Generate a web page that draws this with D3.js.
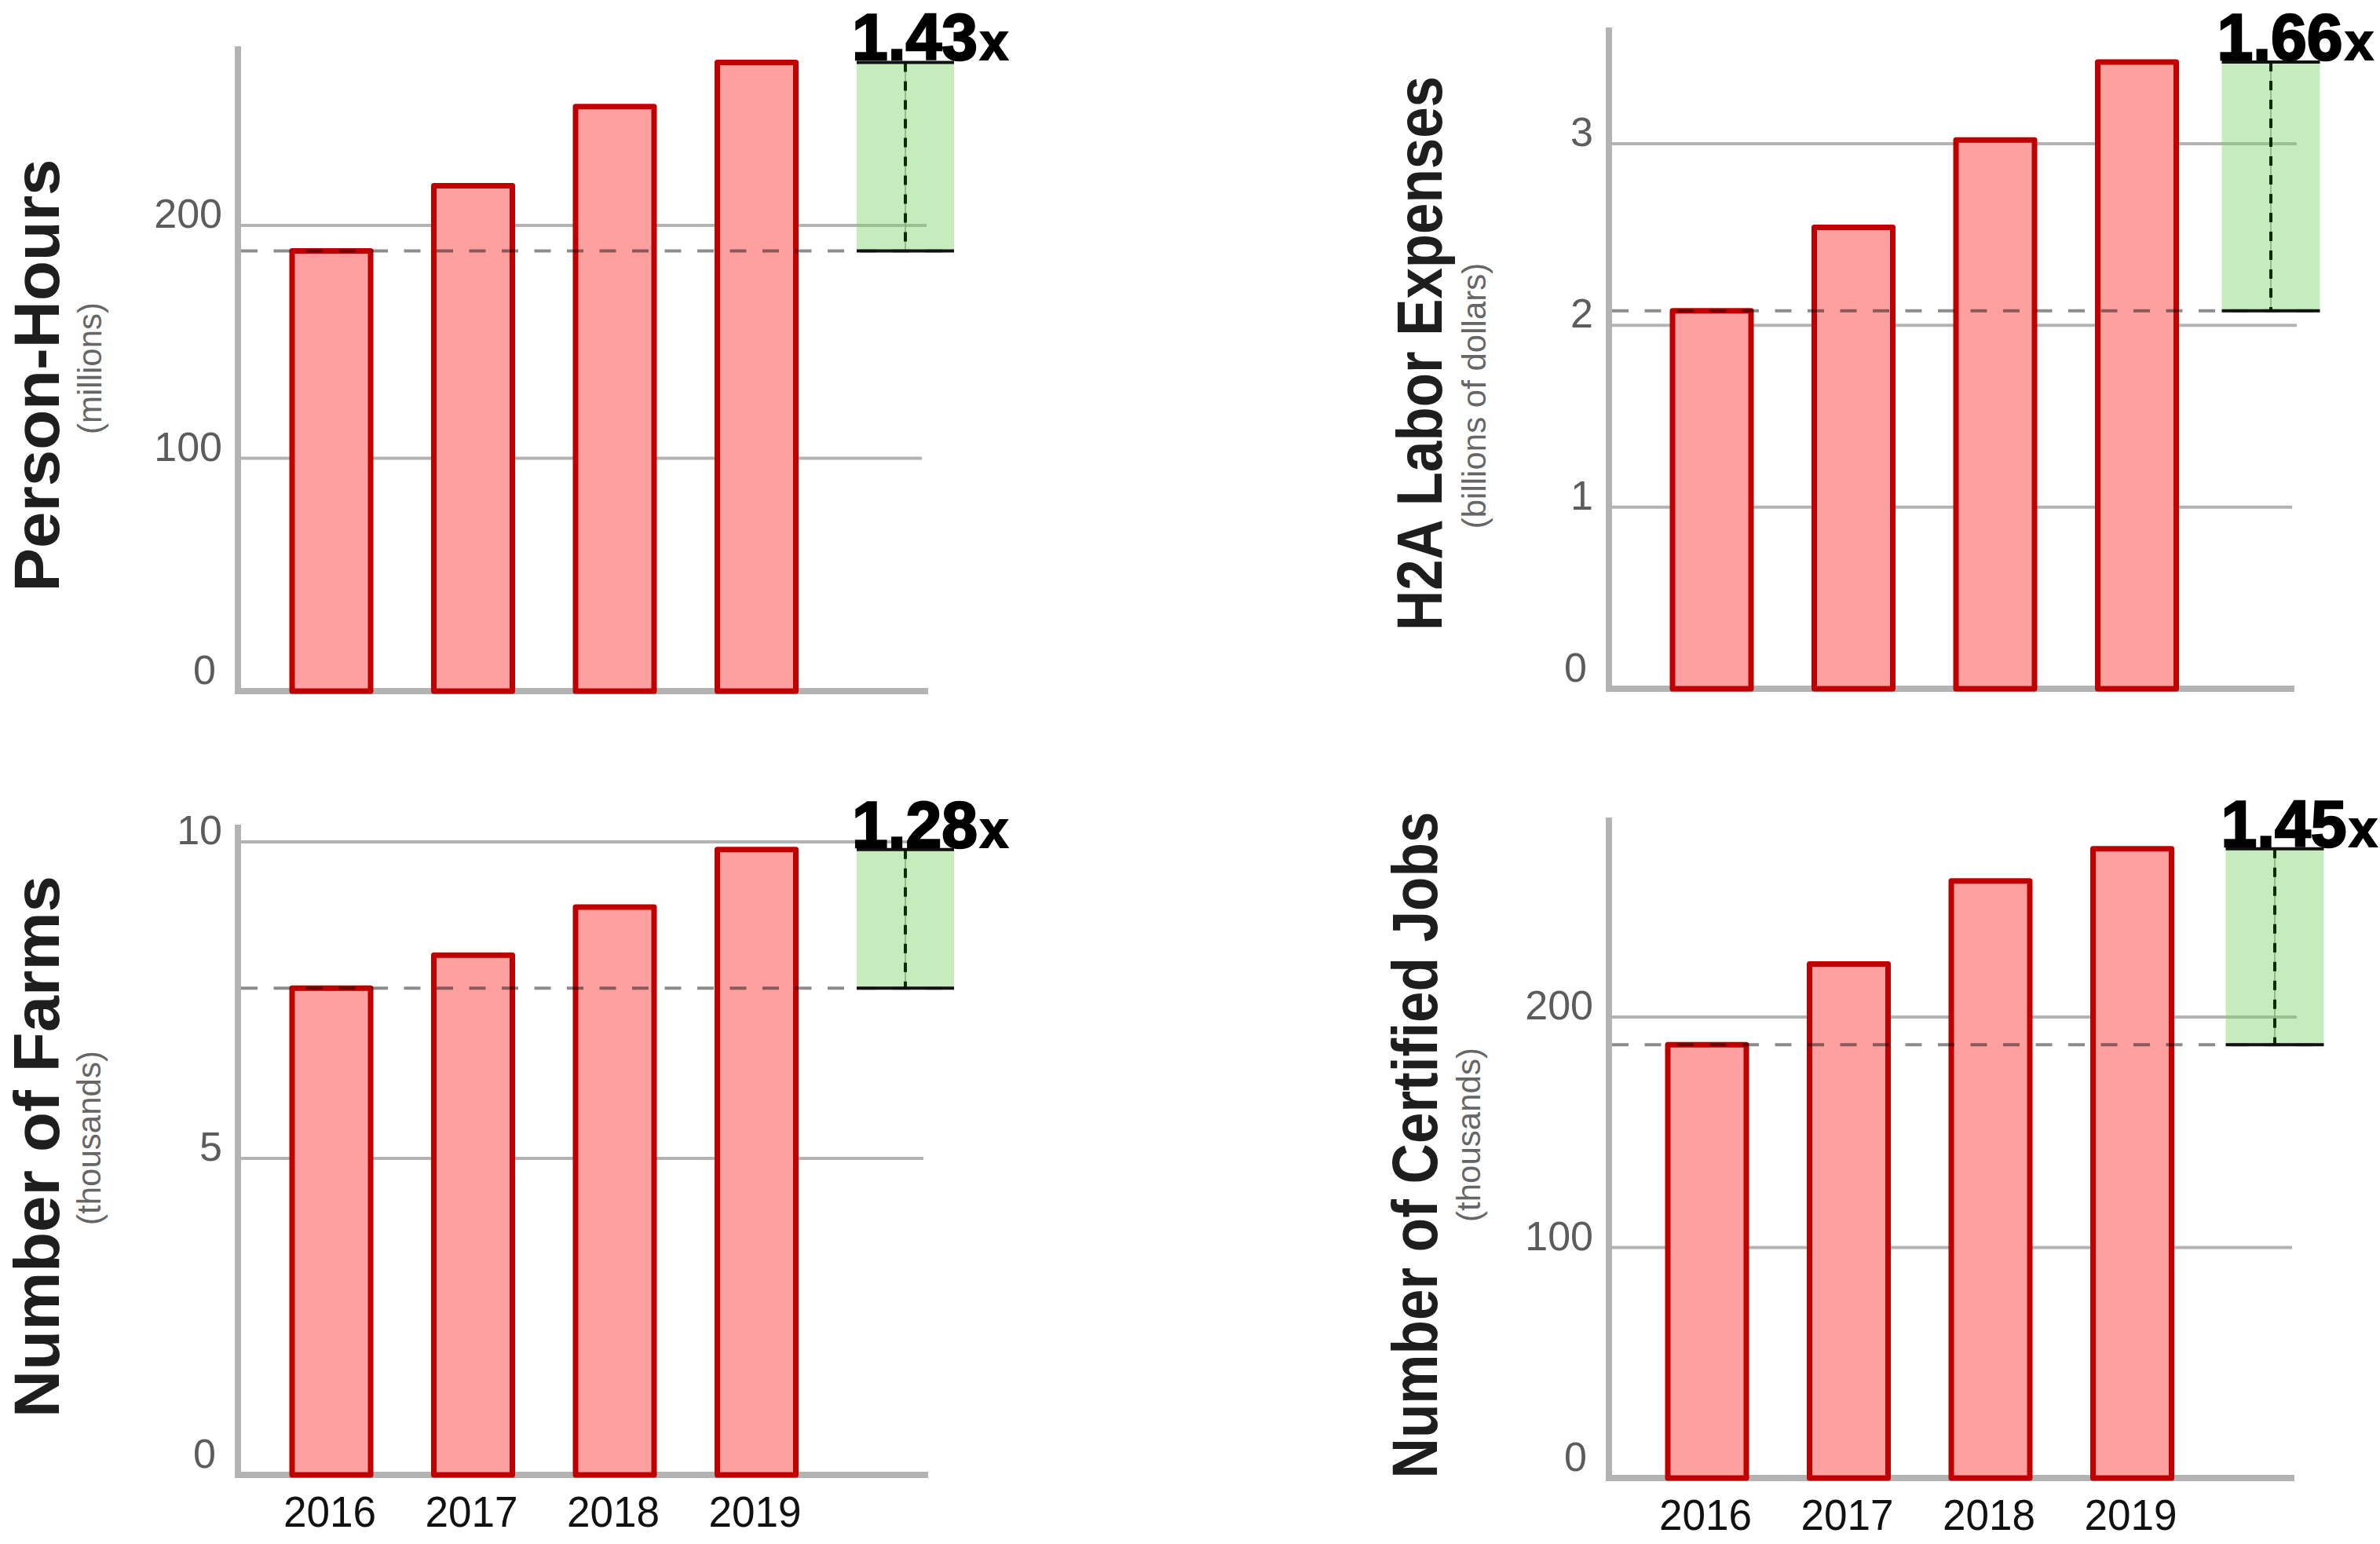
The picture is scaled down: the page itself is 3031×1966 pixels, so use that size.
<!DOCTYPE html>
<html>
<head>
<meta charset="utf-8">
<script src="https://cdn.jsdelivr.net/npm/d3@7"></script>
<style>
  html, body { margin: 0; padding: 0; background: #fff; }
  svg { display: block; }
  text { font-family: 'Liberation Sans', Arial, Helvetica, sans-serif; }
  .tick-label { fill: #5c5c5c; font-size: 52px; }
  .year-label { fill: #111; font-size: 56px; }
  .title { fill: #1e1e1e; font-size: 82px; font-weight: bold; }
  .unit { fill: #666; font-size: 42px; }
  .ratio { fill: #000; font-weight: bold; }
</style>
</head>
<body>
<svg id="chart" width="3031" height="1966"></svg>
<script>
// Data
const years = ['2016', '2017', '2018', '2019'];
const personHours = [189, 217, 251, 270];      // millions
const laborExpenses = [2.08, 2.54, 3.02, 3.45]; // billions of dollars
const farms = [7.69, 8.21, 8.97, 9.88];         // thousands
const certifiedJobs = [188, 223, 259, 273];     // thousands

const personHoursTicks = [0, 100, 200];
const laborExpensesTicks = [0, 1, 2, 3];
const farmsTicks = [0, 5, 10];
const certifiedJobsTicks = [0, 100, 200];

const titles = ['Person-Hours', 'H2A Labor Expenses', 'Number of Farms', 'Number of Certified Jobs'];
const units = ['(millions)', '(billions of dollars)', '(thousands)', '(thousands)'];

const seriesList = [personHours, laborExpenses, farms, certifiedJobs];
const tickList = [personHoursTicks, laborExpensesTicks, farmsTicks, certifiedJobsTicks];

// Where each small chart sits on the page
const layouts = [
    { left: 331.75, axisX: 303, y0: 880, refValue: 200, refY: 287, axisTop: 59, gridEnd: 1180, baseEnd: 1182,
      ratioShift: 9, ratioWidth: 124, titleX: 75, titleY: 478, titleLen: 551, unitX: 129, unitY: 469, showYears: false },
    { left: 2089.75, axisX: 2049, y0: 877, refValue: 3, refY: 183, axisTop: 35, gridEnd: 2925, baseEnd: 2922,
      ratioShift: -10, ratioWidth: 125, titleX: 1836, titleY: 450, titleLen: 706, unitX: 1892, unitY: 504, showYears: false },
    { left: 331.75, axisX: 303, y0: 1878, refValue: 10, refY: 1072, axisTop: 1050, gridEnd: 1182, baseEnd: 1182,
      ratioShift: 9, ratioWidth: 124, titleX: 75, titleY: 1460, titleLen: 690, unitX: 128, unitY: 1449, showYears: true },
    { left: 2083.75, axisX: 2049, y0: 1882, refValue: 200, refY: 1295, axisTop: 1041, gridEnd: 2925, baseEnd: 2922,
      ratioShift: 1, ratioWidth: 125, titleX: 1830, titleY: 1458, titleLen: 849, unitX: 1885, unitY: 1445, showYears: true }
];

const STEP = 180.5;
const AXIS_GREY = '#b3b3b3';

const svg = d3.select('#chart');

function drawPanel(values, ticks, title, unit, lay) {
    const g = svg.append('g');

    const x = d3.scaleBand()
        .domain([...years, 'ratio'])
        .range([lay.left, lay.left + STEP * 5])
        .paddingInner(1 - 100 / STEP)
        .paddingOuter((1 - 100 / STEP) / 2);

    const y = d3.scaleLinear()
        .domain([0, lay.refValue])
        .range([lay.y0, lay.refY]);

    // gridlines (zero is the baseline); the lowest one is a bit shorter
    const gridTicks = ticks.filter(t => t !== 0);
    g.selectAll('.grid')
        .data(gridTicks)
        .enter()
        .append('line')
        .attr('x1', lay.axisX)
        .attr('x2', (d, i) => i === 0 && gridTicks.length > 1 ? lay.gridEnd - 6 : lay.gridEnd)
        .attr('y1', d => y(d))
        .attr('y2', d => y(d))
        .attr('stroke', AXIS_GREY)
        .attr('stroke-width', 4);

    // axis lines
    g.append('line')
        .attr('x1', lay.axisX).attr('x2', lay.axisX)
        .attr('y1', lay.axisTop).attr('y2', lay.y0 + 4)
        .attr('stroke', AXIS_GREY).attr('stroke-width', 8);
    g.append('line')
        .attr('x1', lay.axisX - 4).attr('x2', lay.baseEnd)
        .attr('y1', lay.y0).attr('y2', lay.y0)
        .attr('stroke', AXIS_GREY).attr('stroke-width', 8);

    // tick labels
    g.selectAll('.tick-label')
        .data(ticks)
        .enter()
        .append('text')
        .attr('class', 'tick-label')
        .attr('text-anchor', 'end')
        .attr('x', d => d === 0 ? lay.axisX - 28 : lay.axisX - 20)
        .attr('y', d => d === 0 ? y(0) - 9 : y(d) + 3)
        .text(d => d);

    // bars
    g.selectAll('.bar')
        .data(values)
        .enter()
        .append('rect')
        .attr('class', 'bar')
        .attr('x', (d, i) => x(years[i]))
        .attr('width', x.bandwidth())
        .attr('y', d => y(d))
        .attr('height', d => lay.y0 - y(d))
        .attr('fill', '#ffa0a0')
        .attr('stroke', '#c00000')
        .attr('stroke-width', 7)
        .attr('stroke-linejoin', 'round');

    // growth box
    const first = values[0];
    const last = values[values.length - 1];
    const cx = x('ratio') + x.bandwidth() / 2 + lay.ratioShift;
    const gl = cx - lay.ratioWidth / 2;
    const gr = cx + lay.ratioWidth / 2;

    g.append('line')
        .attr('x1', lay.axisX + 4).attr('x2', gr)
        .attr('y1', y(first)).attr('y2', y(first))
        .attr('stroke', '#000').attr('stroke-opacity', 0.45)
        .attr('stroke-width', 4).attr('stroke-dasharray', '21 20.5');

    g.append('rect')
        .attr('x', gl).attr('width', lay.ratioWidth)
        .attr('y', y(last)).attr('height', y(first) - y(last))
        .attr('fill', 'rgb(120,210,100)').attr('fill-opacity', 0.42);

    g.append('line')
        .attr('x1', cx).attr('x2', cx)
        .attr('y1', y(last)).attr('y2', y(first))
        .attr('stroke', '#7fae74').attr('stroke-width', 1.5);
    g.append('line')
        .attr('x1', cx).attr('x2', cx)
        .attr('y1', y(last)).attr('y2', y(first))
        .attr('stroke', '#0d2a05').attr('stroke-width', 4)
        .attr('stroke-dasharray', '12 12');

    g.selectAll('.cap')
        .data([first, last])
        .enter()
        .append('line')
        .attr('x1', gl).attr('x2', gr)
        .attr('y1', d => y(d)).attr('y2', d => y(d))
        .attr('stroke', '#111').attr('stroke-width', 4);

    // growth label
    const ratio = (last / first).toFixed(2);
    g.append('text')
        .attr('class', 'ratio')
        .attr('x', gl - 6)
        .attr('y', y(last) - 3)
        .attr('font-size', 83)
        .attr('stroke', '#000')
        .attr('stroke-width', 2.5)
        .attr('textLength', 160)
        .attr('lengthAdjust', 'spacingAndGlyphs')
        .text(ratio);
    g.append('text')
        .attr('class', 'ratio')
        .attr('x', gl - 6 + 163)
        .attr('y', y(last) - 3)
        .attr('font-size', 66)
        .attr('stroke', '#000')
        .attr('stroke-width', 2)
        .attr('textLength', 36)
        .attr('lengthAdjust', 'spacingAndGlyphs')
        .text('x');

    // year labels
    if (lay.showYears) {
        g.selectAll('.year-label')
            .data(years)
            .enter()
            .append('text')
            .attr('class', 'year-label')
            .attr('text-anchor', 'middle')
            .attr('x', d => x(d) + x.bandwidth() / 2 - 2)
            .attr('y', lay.y0 + 66)
            .attr('textLength', 118)
            .attr('lengthAdjust', 'spacingAndGlyphs')
            .text(d => d);
    }

    // axis titles: squeeze along the reading direction to the measured length
    const t = g.append('text')
        .attr('class', 'title')
        .attr('text-anchor', 'middle')
        .text(title);
    const k = lay.titleLen / t.node().getComputedTextLength();
    t.attr('transform', `translate(${lay.titleX}, ${lay.titleY}) rotate(-90) scale(${k}, 1)`);

    g.append('text')
        .attr('class', 'unit')
        .attr('text-anchor', 'middle')
        .attr('transform', `translate(${lay.unitX}, ${lay.unitY}) rotate(-90)`)
        .text(unit);
}

seriesList.forEach((vals, i) => {
    drawPanel(vals, tickList[i], titles[i], units[i], layouts[i]);
});
</script>
</body>
</html>
